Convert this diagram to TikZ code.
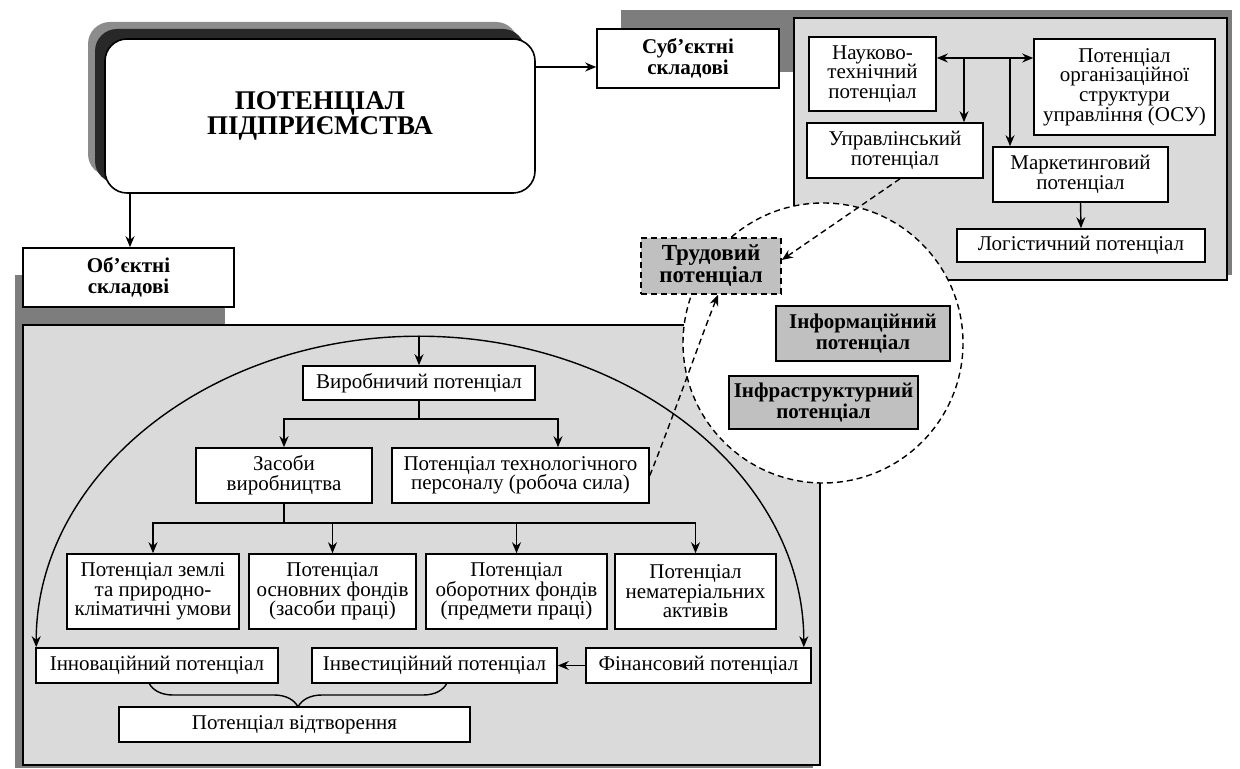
\documentclass[tikz,border=0pt]{standalone}
\usepackage{fontspec}
\setmainfont{Liberation Serif}
\usetikzlibrary{arrows.meta,decorations.pathreplacing,calc}
\definecolor{panelgray}{RGB}{218,218,218}
\definecolor{shadowgray}{RGB}{125,125,125}
\definecolor{outershadow}{RGB}{140,140,140}
\definecolor{innershadow}{RGB}{40,40,40}
\definecolor{labgray}{RGB}{192,192,192}
\tikzset{
 wh/.style 2 args={minimum width=#1*0.5pt, minimum height=#2*0.5pt},
 bx/.style={draw, line width=0.8pt, fill=white, align=center, inner sep=1pt, font=\fontsize{10.5}{9.8}\selectfont},
 bxb/.style={bx, font=\fontsize{10.5}{10.2}\selectfont\bfseries},
 arr/.style={-{Stealth[length=5.5pt,width=4.5pt]}, line width=0.7pt},
 darr/.style={arr, dash pattern=on 3pt off 2pt},
 ln/.style={line width=0.7pt},
 panel/.style={fill=panelgray, draw, line width=0.8pt},
}
\begin{document}
\begin{tikzpicture}[x=0.5pt,y=-0.5pt]
\useasboundingbox (0,0) rectangle (1240,769);
% main box shadows
\fill[outershadow, rounded corners=11pt] (88,22) rectangle (518,176);
\fill[innershadow, rounded corners=11pt] (95,29) rectangle (525,183);
% upper right panel
\fill[shadowgray] (621,10) rectangle (800,72);
\fill[shadowgray] (800,10) rectangle (1232,275);
\draw[panel] (794,18) rectangle (1227,280);
% lower panel
\fill[shadowgray] (15,275) rectangle (225,330);
\fill[shadowgray] (15,330) rectangle (813,768);
\draw[panel] (23,325) rectangle (820,765);
% dashed circle
\draw[fill=white, line width=0.7pt, dash pattern=on 3pt off 2pt] (823,343) circle[radius=140];

% nodes
\node[bx, rounded corners=11pt, wh={430}{154}, font=\fontsize{13.5}{12.8}\selectfont\bfseries] (main) at (320,116) {ПОТЕНЦІАЛ\\ПІДПРИЄМСТВА};
\node[bxb, wh={182}{59}] (subj) at (688,58.5) {Суб’єктні\\складові};
\node[bxb, wh={211}{59}] (obj) at (128.5,277.5) {Об’єктні\\складові};

\node[bx, wh={127}{74}] (nauk) at (872.5,74) {Науково-\\технічний\\потенціал};
\node[bx, wh={181}{96}] (osu) at (1124.5,87) {Потенціал\\організаційної\\структури\\управління (ОСУ)};
\node[bx, wh={176}{55}] (upr) at (895,150.5) {Управлінський\\потенціал};
\node[bx, wh={175}{55}] (mark) at (1080.5,174.5) {Маркетинговий\\потенціал};
\node[bx, wh={248}{33}] (log) at (1081,245.5) {Логістичний потенціал};

\node[bxb, wh={140}{56}, fill=labgray, dash pattern=on 3pt off 2pt, font=\fontsize{11.5}{11}\selectfont\bfseries] (trud) at (711,266) {Трудовий\\потенціал};
\node[bxb, wh={174}{55}, fill=labgray] (inf) at (863,333.5) {Інформаційний\\потенціал};
\node[bxb, wh={189}{53}, fill=labgray] (infr) at (823.5,402.5) {Інфраструктурний\\потенціал};

\node[bx, wh={232}{34}] (vyr) at (419,383) {Виробничий потенціал};
\node[bx, wh={176}{55}] (zas) at (284,475.5) {Засоби\\виробництва};
\node[bx, wh={257}{55}] (tech) at (520.5,475.5) {Потенціал технологічного\\персоналу (робоча сила)};

\node[bx, wh={172}{75}] (b1) at (153,591.5) {Потенціал землі\\та природно-\\кліматичні умови};
\node[bx, wh={167}{75}] (b2) at (332.5,591.5) {Потенціал\\основних фондів\\(засоби праці)};
\node[bx, wh={181}{75}] (b3) at (516.5,591.5) {Потенціал\\оборотних фондів\\(предмети праці)};
\node[bx, wh={161}{75}] (b4) at (695.5,591.5) {Потенціал\\нематеріальних\\активів};

\node[bx, wh={242}{35}] (inn) at (157,665.5) {Інноваційний потенціал};
\node[bx, wh={245}{35}] (inv) at (434.5,665.5) {Інвестиційний потенціал};
\node[bx, wh={225}{35}] (fin) at (698.5,665.5) {Фінансовий потенціал};
\node[bx, wh={351}{35}] (vid) at (294.5,724.5) {Потенціал відтворення};

% top connectors
\coordinate (ya) at (0,67);
\draw[arr] (main.east |- ya) -- (subj.west |- ya);
\coordinate (xa) at (130,0);
\draw[arr] (main.south -| xa) -- (obj.north -| xa);

% upper panel connectors
\coordinate (yh) at (0,58);
\draw[{Stealth[length=5.5pt,width=4.5pt]}-{Stealth[length=5.5pt,width=4.5pt]}, line width=0.7pt] (nauk.east |- yh) -- (osu.west |- yh);
\coordinate (v1) at (964,58);
\coordinate (v2) at (1010,58);
\draw[arr] (v1) -- (v1 |- upr.north);
\draw[arr] (v2) -- (v2 |- mark.north);
\draw[arr] (mark.south) -- (log.north);

% lower panel connectors
\coordinate (yv) at (0,419);
\coordinate (xt) at (558,0);
\draw[ln] (vyr.south) -- (vyr.south |- yv);
\draw[arr] (vyr.south |- yv) -| (zas.north);
\draw[arr] (vyr.south |- yv) -| (tech.north -| xt);
\coordinate (yz) at (0,523);
\draw[ln] (zas.south) -- (zas.south |- yz);
\draw[arr] (zas.south |- yz) -| (b1.north);
\draw[arr] (zas.south |- yz) -| (b2.north);
\draw[arr] (zas.south |- yz) -| (b3.north);
\draw[arr] (zas.south |- yz) -| (b4.north);
\draw[arr] (fin.west) -- (inv.east);

% big arch
\path (vyr.north) ++(0,-29) coordinate (archT);
\coordinate (archL) at ([xshift=0.5pt]inn.north west);
\coordinate (archR) at ([xshift=-4pt]fin.north east);
\draw[arr] (archT) .. controls ($(archT)+(-211.5,0)$) and ($(archL)+(0,-171)$) .. (archL);
\draw[arr] (archT) .. controls ($(archT)+(211.5,0)$) and ($(archR)+(0,-171)$) .. (archR);
\draw[arr] (archT) -- (vyr.north);

% brace
\coordinate (brL) at (149,683);
\coordinate (brR) at (447,683);
\draw[decorate, decoration={brace, mirror, amplitude=12pt}, line width=0.7pt] (brL) -- (brR);

% dashed arrows
\draw[darr] (tech.east) .. controls (672,420) and (700,340) .. ([xshift=3.5pt]trud.south);
\draw[darr] ([xshift=2.5pt]upr.south) -- ([yshift=3pt]trud.east);
\end{tikzpicture}
\end{document}
